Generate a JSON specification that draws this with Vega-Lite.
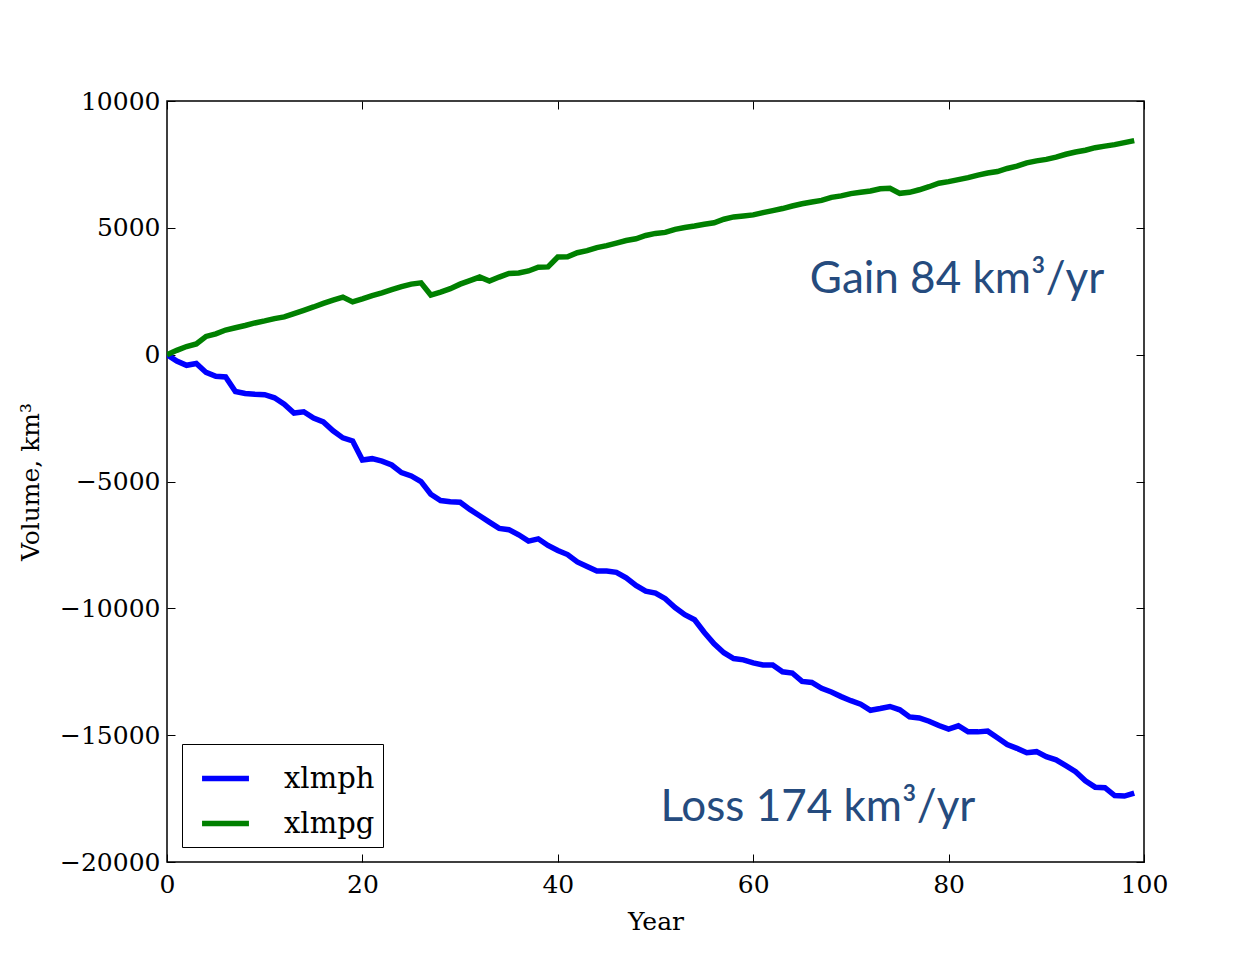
{
  "$schema": "https://vega.github.io/schema/vega-lite/v6.json",
  "width": 977,
  "height": 761,
  "autosize": "none",
  "padding": {"left": 167, "top": 101, "right": 110, "bottom": 92},
  "background": "white",
  "config": {
    "view": {"stroke": "black", "strokeWidth": 1.5},
    "font": "DejaVu Serif",
    "axis": {
      "domain": false,
      "grid": false,
      "tickColor": "black",
      "tickSize": -8,
      "tickWidth": 1,
      "labelFont": "DejaVu Serif",
      "labelFontSize": 25,
      "labelColor": "black",
      "labelFlush": false,
      "titleFont": "DejaVu Serif",
      "titleFontSize": 25,
      "titleFontWeight": "normal",
      "titleColor": "black"
    },
    "legend": {
      "orient": "bottom-left",
      "offset": 15,
      "strokeColor": "black",
      "fillColor": "white",
      "padding": 8,
      "cornerRadius": 0,
      "symbolType": "stroke",
      "symbolStrokeWidth": 5.5,
      "symbolSize": 2200,
      "symbolOffset": 9,
      "labelFont": "DejaVu Serif",
      "labelFontSize": 29,
      "labelColor": "black",
      "labelOffset": 32,
      "rowPadding": 3
    }
  },
  "layer": [
    {
      "data": {
        "values": [
          {"year": 0, "xlmph": 0, "xlmpg": 0},
          {"year": 1, "xlmph": -250, "xlmpg": 170},
          {"year": 2, "xlmph": -420, "xlmpg": 320},
          {"year": 3, "xlmph": -350, "xlmpg": 420},
          {"year": 4, "xlmph": -700, "xlmpg": 720},
          {"year": 5, "xlmph": -850, "xlmpg": 820},
          {"year": 6, "xlmph": -880, "xlmpg": 970},
          {"year": 7, "xlmph": -1450, "xlmpg": 1060},
          {"year": 8, "xlmph": -1530, "xlmpg": 1150},
          {"year": 9, "xlmph": -1560, "xlmpg": 1250},
          {"year": 10, "xlmph": -1580, "xlmpg": 1330},
          {"year": 11, "xlmph": -1700, "xlmpg": 1420},
          {"year": 12, "xlmph": -1950, "xlmpg": 1490},
          {"year": 13, "xlmph": -2300, "xlmpg": 1620},
          {"year": 14, "xlmph": -2250, "xlmpg": 1750},
          {"year": 15, "xlmph": -2500, "xlmpg": 1880},
          {"year": 16, "xlmph": -2650, "xlmpg": 2020},
          {"year": 17, "xlmph": -3000, "xlmpg": 2150},
          {"year": 18, "xlmph": -3280, "xlmpg": 2270},
          {"year": 19, "xlmph": -3400, "xlmpg": 2080},
          {"year": 20, "xlmph": -4150, "xlmpg": 2200},
          {"year": 21, "xlmph": -4100, "xlmpg": 2330},
          {"year": 22, "xlmph": -4200, "xlmpg": 2440},
          {"year": 23, "xlmph": -4350, "xlmpg": 2560},
          {"year": 24, "xlmph": -4650, "xlmpg": 2680},
          {"year": 25, "xlmph": -4780, "xlmpg": 2780},
          {"year": 26, "xlmph": -5000, "xlmpg": 2830},
          {"year": 27, "xlmph": -5500, "xlmpg": 2350},
          {"year": 28, "xlmph": -5750, "xlmpg": 2470},
          {"year": 29, "xlmph": -5800, "xlmpg": 2600},
          {"year": 30, "xlmph": -5820, "xlmpg": 2780},
          {"year": 31, "xlmph": -6100, "xlmpg": 2920},
          {"year": 32, "xlmph": -6350, "xlmpg": 3060},
          {"year": 33, "xlmph": -6600, "xlmpg": 2900},
          {"year": 34, "xlmph": -6850, "xlmpg": 3060},
          {"year": 35, "xlmph": -6900, "xlmpg": 3200},
          {"year": 36, "xlmph": -7100, "xlmpg": 3220},
          {"year": 37, "xlmph": -7350, "xlmpg": 3300},
          {"year": 38, "xlmph": -7260, "xlmpg": 3450},
          {"year": 39, "xlmph": -7520, "xlmpg": 3460},
          {"year": 40, "xlmph": -7720, "xlmpg": 3850},
          {"year": 41, "xlmph": -7880, "xlmpg": 3860},
          {"year": 42, "xlmph": -8170, "xlmpg": 4020},
          {"year": 43, "xlmph": -8350, "xlmpg": 4100},
          {"year": 44, "xlmph": -8530, "xlmpg": 4220},
          {"year": 45, "xlmph": -8530, "xlmpg": 4300},
          {"year": 46, "xlmph": -8580, "xlmpg": 4400},
          {"year": 47, "xlmph": -8800, "xlmpg": 4500},
          {"year": 48, "xlmph": -9100, "xlmpg": 4570},
          {"year": 49, "xlmph": -9320, "xlmpg": 4700},
          {"year": 50, "xlmph": -9400, "xlmpg": 4780},
          {"year": 51, "xlmph": -9620, "xlmpg": 4820},
          {"year": 52, "xlmph": -9970, "xlmpg": 4940},
          {"year": 53, "xlmph": -10250, "xlmpg": 5010},
          {"year": 54, "xlmph": -10450, "xlmpg": 5070},
          {"year": 55, "xlmph": -10950, "xlmpg": 5140},
          {"year": 56, "xlmph": -11400, "xlmpg": 5200},
          {"year": 57, "xlmph": -11750, "xlmpg": 5340},
          {"year": 58, "xlmph": -11980, "xlmpg": 5430},
          {"year": 59, "xlmph": -12030, "xlmpg": 5470},
          {"year": 60, "xlmph": -12150, "xlmpg": 5510},
          {"year": 61, "xlmph": -12230, "xlmpg": 5600},
          {"year": 62, "xlmph": -12230, "xlmpg": 5680},
          {"year": 63, "xlmph": -12500, "xlmpg": 5760},
          {"year": 64, "xlmph": -12550, "xlmpg": 5860},
          {"year": 65, "xlmph": -12880, "xlmpg": 5950},
          {"year": 66, "xlmph": -12920, "xlmpg": 6020},
          {"year": 67, "xlmph": -13150, "xlmpg": 6080},
          {"year": 68, "xlmph": -13300, "xlmpg": 6200},
          {"year": 69, "xlmph": -13480, "xlmpg": 6260},
          {"year": 70, "xlmph": -13640, "xlmpg": 6350},
          {"year": 71, "xlmph": -13780, "xlmpg": 6400},
          {"year": 72, "xlmph": -14020, "xlmpg": 6450},
          {"year": 73, "xlmph": -13950, "xlmpg": 6540},
          {"year": 74, "xlmph": -13870, "xlmpg": 6560},
          {"year": 75, "xlmph": -14000, "xlmpg": 6360},
          {"year": 76, "xlmph": -14280, "xlmpg": 6400},
          {"year": 77, "xlmph": -14320, "xlmpg": 6500},
          {"year": 78, "xlmph": -14450, "xlmpg": 6620},
          {"year": 79, "xlmph": -14620, "xlmpg": 6760},
          {"year": 80, "xlmph": -14760, "xlmpg": 6820},
          {"year": 81, "xlmph": -14630, "xlmpg": 6900},
          {"year": 82, "xlmph": -14870, "xlmpg": 6980},
          {"year": 83, "xlmph": -14870, "xlmpg": 7080},
          {"year": 84, "xlmph": -14840, "xlmpg": 7160},
          {"year": 85, "xlmph": -15100, "xlmpg": 7220},
          {"year": 86, "xlmph": -15370, "xlmpg": 7340},
          {"year": 87, "xlmph": -15520, "xlmpg": 7430},
          {"year": 88, "xlmph": -15690, "xlmpg": 7560},
          {"year": 89, "xlmph": -15650, "xlmpg": 7640},
          {"year": 90, "xlmph": -15850, "xlmpg": 7700},
          {"year": 91, "xlmph": -15970, "xlmpg": 7790},
          {"year": 92, "xlmph": -16200, "xlmpg": 7900},
          {"year": 93, "xlmph": -16440, "xlmpg": 7990},
          {"year": 94, "xlmph": -16800, "xlmpg": 8060},
          {"year": 95, "xlmph": -17050, "xlmpg": 8160},
          {"year": 96, "xlmph": -17070, "xlmpg": 8220},
          {"year": 97, "xlmph": -17380, "xlmpg": 8280},
          {"year": 98, "xlmph": -17400, "xlmpg": 8360},
          {"year": 99, "xlmph": -17280, "xlmpg": 8440}
        ]
      },
      "transform": [{"fold": ["xlmph", "xlmpg"], "as": ["series", "volume"]}],
      "mark": {"type": "line", "strokeWidth": 5.5, "clip": true},
      "encoding": {
        "x": {
          "field": "year", "type": "quantitative",
          "scale": {"domain": [0, 100], "nice": false},
          "axis": {"values": [0, 20, 40, 60, 80, 100], "format": "d", "title": "Year", "labelPadding": 18, "titlePadding": 12}
        },
        "y": {
          "field": "volume", "type": "quantitative",
          "scale": {"domain": [-20000, 10000], "nice": false, "zero": false},
          "axis": {"values": [-20000, -15000, -10000, -5000, 0, 5000, 10000], "format": "d", "title": "Volume, km³", "labelPadding": 15, "titlePadding": 16}
        },
        "color": {
          "field": "series", "type": "nominal",
          "scale": {"domain": ["xlmph", "xlmpg"], "range": ["#0000ff", "#008000"]},
          "legend": {"title": null}
        }
      }
    },
    {
      "data": {
        "values": [
          {"year": 65.8, "volume": 2940, "label": "Gain 84 km³/yr"},
          {"year": 50.5, "volume": -17860, "label": "Loss 174 km³/yr"}
        ]
      },
      "mark": {"type": "text", "align": "left", "baseline": "middle", "font": "Lato", "fontSize": 44, "color": "#254b7e"},
      "encoding": {
        "x": {
          "field": "year", "type": "quantitative",
          "axis": {"orient": "top", "values": [0, 20, 40, 60, 80, 100], "labels": false, "title": null}
        },
        "y": {
          "field": "volume", "type": "quantitative",
          "axis": {"orient": "right", "values": [-20000, -15000, -10000, -5000, 0, 5000, 10000], "labels": false, "title": null}
        },
        "text": {"field": "label"}
      }
    }
  ],
  "resolve": {"axis": {"x": "independent", "y": "independent"}}
}
